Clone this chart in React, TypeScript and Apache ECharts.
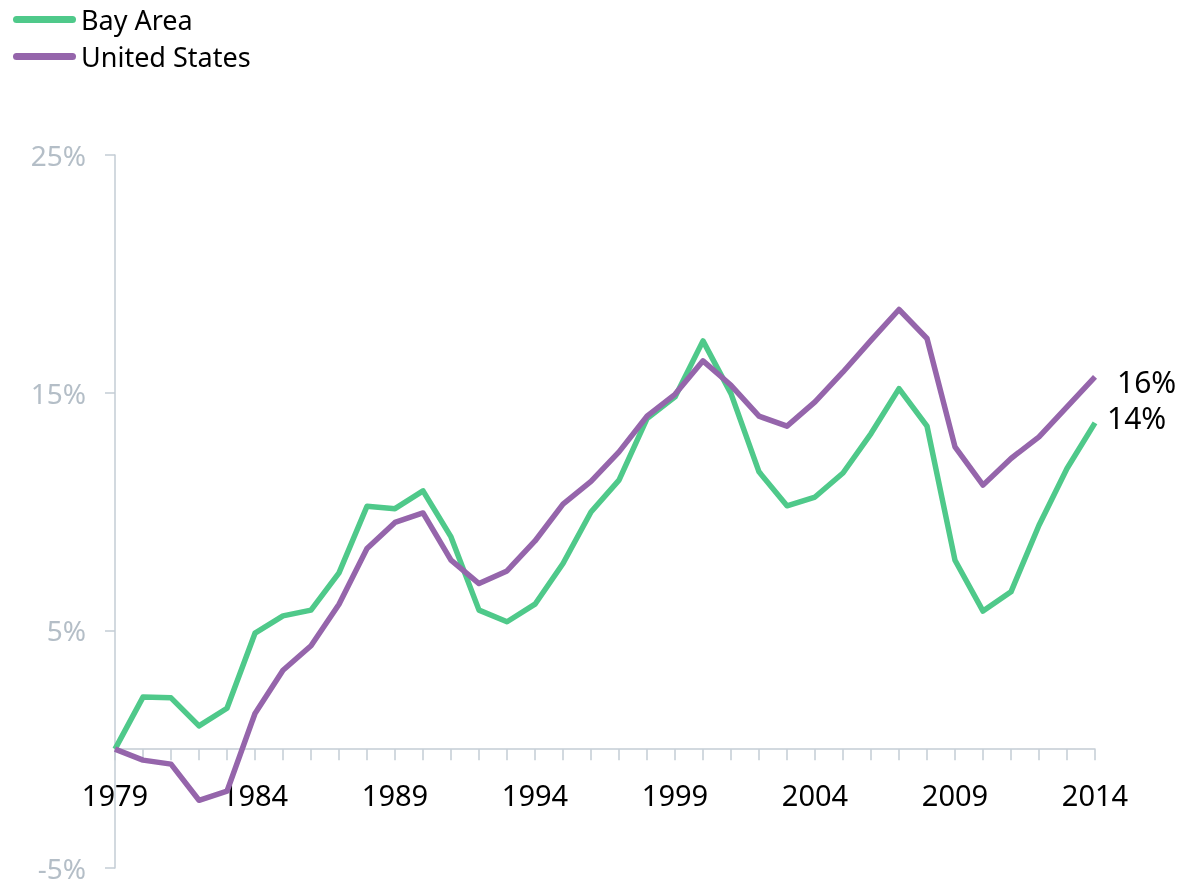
import React, { useEffect, useRef } from "react";
import * as echarts from "echarts";

const years = [
  "1979","1980","1981","1982","1983","1984","1985","1986","1987","1988",
  "1989","1990","1991","1992","1993","1994","1995","1996","1997","1998",
  "1999","2000","2001","2002","2003","2004","2005","2006","2007","2008",
  "2009","2010","2011","2012","2013","2014",
];

const bayArea = [
  0, 2.19, 2.16, 0.98, 1.72, 4.88, 5.61, 5.85, 7.42, 10.22,
  10.12, 10.87, 8.93, 5.85, 5.36, 6.1, 7.81, 9.98, 11.32, 13.91,
  14.82, 17.18, 14.96, 11.67, 10.24, 10.61, 11.62, 13.28, 15.17, 13.59,
  7.95, 5.81, 6.62, 9.42, 11.81, 13.73,
];

const unitedStates = [
  0, -0.46, -0.63, -2.15, -1.77, 1.5, 3.32, 4.35, 6.1, 8.44,
  9.54, 9.94, 7.95, 6.97, 7.5, 8.76, 10.31, 11.27, 12.51, 14.01,
  14.93, 16.34, 15.31, 14.01, 13.59, 14.61, 15.87, 17.2, 18.5, 17.28,
  12.72, 11.11, 12.23, 13.14, 14.4, 15.66,
];

const yMin = -5;
const yMax = 25;
const yInterval = 10;

const GREEN = "#4fc98a";
const PURPLE = "#9565ab";
const AXIS = "#c3ccd4";
const FONT = "'Noto Sans', 'Open Sans', sans-serif";

const legendIcon =
  "path://M3.5,0H59.5A3.5,3.5,0,0,1,59.5,7H3.5A3.5,3.5,0,0,1,3.5,0Z";

const GRID_TOP = 155;
const GRID_BOTTOM = 17;
const CHART_H = 885;

export default function App() {
  const ref = useRef<HTMLDivElement>(null);

  useEffect(() => {
    if (!ref.current) return;
    const chart = echarts.init(ref.current, undefined, { renderer: "svg" });
    const plotH = CHART_H - GRID_TOP - GRID_BOTTOM;
    const zeroOffset = -((0 - yMin) / (yMax - yMin)) * plotH;
    chart.setOption({
      animation: false,
      textStyle: { fontFamily: FONT },
      legend: {
        orient: "vertical",
        left: 13,
        top: 1,
        padding: 0,
        itemWidth: 63,
        itemHeight: 7,
        itemGap: 0,
        icon: legendIcon,
        textStyle: {
          fontFamily: FONT,
          fontSize: 27,
          color: "#000",
          lineHeight: 37,
        },
        data: ["Bay Area", "United States"],
      },
      grid: {
        left: 115,
        right: 108,
        top: GRID_TOP,
        bottom: GRID_BOTTOM,
        containLabel: false,
        outerBoundsMode: "none",
      },
      xAxis: {
        type: "category",
        data: years,
        boundaryGap: false,
        position: "bottom",
        offset: zeroOffset,
        axisLine: { onZero: false, lineStyle: { color: AXIS, width: 1.5 } },
        axisTick: { interval: 0, length: 11, lineStyle: { color: AXIS, width: 1.5 } },
        axisLabel: {
          interval: 4,
          margin: 31,
          color: "#000",
          fontSize: 29,
          fontFamily: FONT,
        },
        splitLine: { show: false },
      },
      yAxis: {
        type: "value",
        min: yMin,
        max: yMax,
        interval: yInterval,
        axisLine: { show: true, lineStyle: { color: AXIS, width: 1.5 } },
        axisTick: { show: true, length: 10, lineStyle: { color: AXIS, width: 1.5 } },
        axisLabel: {
          formatter: "{value}%",
          margin: 29,
          color: "#b4bec7",
          fontSize: 28,
          fontFamily: FONT,
        },
        splitLine: { show: false },
      },
      series: [
        {
          name: "Bay Area",
          type: "line",
          data: bayArea,
          symbol: "none",
          color: GREEN,
          lineStyle: { width: 5.5, color: GREEN, join: "round" },
          z: 2,
          endLabel: {
            show: true,
            formatter: (p: any) => Math.round(p.value) + "%",
            color: "#000",
            fontSize: 30,
            lineHeight: 32,
            fontFamily: FONT,
            distance: 0,
            offset: [12, -5],
          },
        },
        {
          name: "United States",
          type: "line",
          data: unitedStates,
          symbol: "none",
          color: PURPLE,
          lineStyle: { width: 5.5, color: PURPLE, join: "round" },
          z: 3,
          endLabel: {
            show: true,
            formatter: (p: any) => Math.round(p.value) + "%",
            color: "#000",
            fontSize: 30,
            lineHeight: 32,
            fontFamily: FONT,
            distance: 0,
            offset: [22, 5],
          },
        },
      ],
    });
    return () => chart.dispose();
  }, []);

  return (
    <div
      ref={ref}
      style={{ position: "fixed", left: 0, top: 0, width: 1203, height: 885 }}
    />
  );
}
